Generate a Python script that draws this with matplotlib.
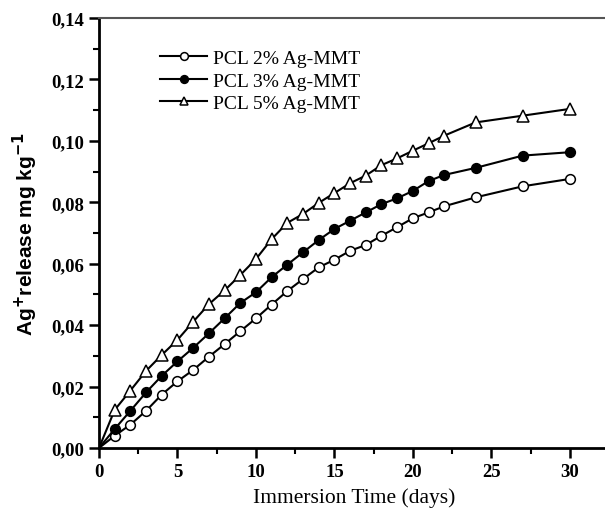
import numpy as np
import matplotlib
matplotlib.use("Agg")
import matplotlib.pyplot as plt
from matplotlib.ticker import MultipleLocator, FuncFormatter

# --- Data ---
days = [0, 1, 2, 3, 4, 5, 6, 7, 8, 9, 10, 11, 12, 13, 14, 15, 16, 17, 18, 19, 20, 21, 22, 24, 27, 30]

pcl_2 = [0.0, 0.0040, 0.0076, 0.0121, 0.0174, 0.0217, 0.0254, 0.0297, 0.0338, 0.0380,
         0.0422, 0.0467, 0.0511, 0.0550, 0.0588, 0.0613, 0.0642, 0.0661, 0.0691, 0.0719,
         0.0748, 0.0767, 0.0787, 0.0816, 0.0852, 0.0876]
pcl_3 = [0.0, 0.0062, 0.0121, 0.0181, 0.0235, 0.0282, 0.0326, 0.0373, 0.0422, 0.0472,
         0.0507, 0.0556, 0.0597, 0.0637, 0.0677, 0.0713, 0.0740, 0.0767, 0.0794, 0.0813,
         0.0837, 0.0869, 0.0889, 0.0912, 0.0952, 0.0963]
pcl_5 = [0.0, 0.0124, 0.0187, 0.0251, 0.0303, 0.0352, 0.0411, 0.0468, 0.0513, 0.0563,
         0.0615, 0.0680, 0.0733, 0.0762, 0.0798, 0.0830, 0.0862, 0.0887, 0.0921, 0.0943,
         0.0968, 0.0992, 0.1017, 0.1060, 0.1082, 0.1104]

labels = ["PCL 2% Ag-MMT", "PCL 3% Ag-MMT", "PCL 5% Ag-MMT"]

serif = "Liberation Serif"

# --- Figure ---
fig = plt.figure(figsize=(6.05, 5.10), dpi=100)
ax = fig.add_axes([99 / 605, 61 / 510, 510 / 605, 430 / 510])

marks = range(1, len(days))
ax.plot(days, pcl_2, color="black", lw=1.5, marker="o", ms=7, mfc="white",
        mec="black", mew=1.1, markevery=marks, label=labels[0])
ax.plot(days, pcl_3, color="black", lw=1.5, marker="o", ms=7, mfc="black",
        mec="black", mew=1.1, markevery=marks, label=labels[1])
ax.plot(days, pcl_5, color="black", lw=1.5, marker="^", ms=8, mfc="white",
        mec="black", mew=1.1, markevery=marks, label=labels[2])

ax.set_xlim(0, 32.5)
ax.set_ylim(0, 0.14)

ax.xaxis.set_major_locator(MultipleLocator(5))
ax.xaxis.set_minor_locator(MultipleLocator(2.5))
ax.yaxis.set_major_locator(MultipleLocator(0.02))
ax.yaxis.set_minor_locator(MultipleLocator(0.01))
ax.yaxis.set_major_formatter(FuncFormatter(lambda v, p: f"{v:.2f}".replace(".", ",")))

ax.tick_params(which="major", direction="out", length=7, width=1.8, pad=4,
               labelsize=13.5)
ax.tick_params(which="minor", direction="out", length=4, width=1.5)
for lab in ax.get_xticklabels() + ax.get_yticklabels():
    lab.set_fontfamily(serif)
    lab.set_fontweight("bold")

ax.spines["left"].set_linewidth(2)
ax.spines["bottom"].set_linewidth(2)
ax.spines["top"].set_linewidth(1.5)
ax.spines["top"].set_color("#555555")
ax.spines["right"].set_visible(False)

ax.set_xlabel("Immersion Time (days)", fontfamily=serif, fontsize=15.5, labelpad=5)
ax.set_ylabel(r"Ag$^{\mathbf{+}}$release mg kg$^{\mathbf{-1}}$", fontfamily="Liberation Sans",
              fontweight="bold", fontsize=15, labelpad=8)

leg = ax.legend(loc="upper left", bbox_to_anchor=(0.105, 0.945), frameon=False,
                prop={"family": serif, "size": 14}, handlelength=2.4, markerscale=0.8,
                handletextpad=0.3, labelspacing=0.25, borderaxespad=0)

fig.savefig("out.png", dpi=100)
